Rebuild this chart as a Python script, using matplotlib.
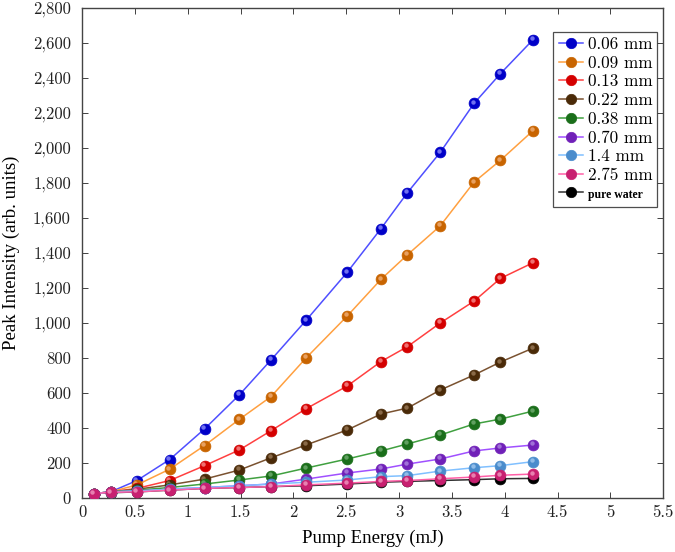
import matplotlib

matplotlib.use("Agg")
import matplotlib.pyplot as plt
import matplotlib.transforms as mtransforms
from matplotlib.ticker import FuncFormatter, MultipleLocator

energy = [0.11, 0.27, 0.52, 0.83, 1.16, 1.49, 1.79, 2.12, 2.51, 2.83, 3.08, 3.39, 3.71, 3.96, 4.27]

labels = ["0.06 mm", "0.09 mm", "0.13 mm", "0.22 mm", "0.38 mm", "0.70 mm", "1.4 mm", "2.75 mm", "pure water"]

i_006 = [25, 35, 100, 220, 395, 590, 790, 1015, 1290, 1540, 1745, 1975, 2255, 2425, 2620]
i_009 = [25, 35, 75, 165, 300, 450, 580, 800, 1040, 1250, 1390, 1555, 1805, 1930, 2100]
i_013 = [25, 35, 55, 100, 185, 275, 385, 510, 640, 780, 865, 1000, 1125, 1255, 1345]
i_022 = [25, 35, 50, 75, 108, 160, 230, 303, 389, 480, 514, 617, 703, 777, 857]
i_038 = [25, 35, 45, 60, 80, 103, 126, 171, 223, 269, 309, 360, 423, 451, 497]
i_070 = [25, 35, 40, 50, 60, 70, 80, 108, 143, 166, 194, 223, 269, 286, 303]
i_14 = [25, 35, 40, 50, 60, 70, 80, 90, 103, 122, 128, 154, 173, 185, 208]
i_275 = [25, 33, 35, 45, 55, 60, 65, 75, 85, 95, 100, 110, 120, 130, 137]
i_water = [25, 30, 35, 45, 55, 60, 65, 70, 80, 90, 95, 100, 105, 110, 112]

series = [i_006, i_009, i_013, i_022, i_038, i_070, i_14, i_275, i_water]
zorders = [3, 4, 5, 6, 7, 8, 9, 10, 2]

# (line colour, ball colour, highlight colour)
colors = [
    ("#4f4fff", "#0000c8", "#7070f0"),
    ("#ffa040", "#c86400", "#e8a060"),
    ("#ff4040", "#d40000", "#f07070"),
    ("#7a5230", "#4a2a08", "#8a6a48"),
    ("#40a040", "#1a6e1a", "#60a060"),
    ("#a050ff", "#7020b8", "#a070d8"),
    ("#80c0ff", "#4a8ccc", "#90bce8"),
    ("#ff60a8", "#c82070", "#e880b0"),
    ("#303030", "#000000", "#505050"),
]

plt.rcParams.update(
    {
        "font.family": "serif",
        "font.serif": ["cmr10", "DejaVu Serif"],
        "mathtext.fontset": "cm",
        "axes.formatter.use_mathtext": True,
        "axes.unicode_minus": False,
    }
)

fig = plt.figure(figsize=(6.75, 5.52), dpi=100)
ax = fig.add_axes([0.1215, 0.0978, 0.861, 0.8877])

hl = mtransforms.offset_copy(ax.transData, fig=fig, x=-1.1, y=1.1, units="points")

handles = []
for vals, lab, (lc, bc, hc), z in zip(series, labels, colors, zorders):
    (h,) = ax.plot(energy, vals, color=lc, lw=1.1, marker="o", markersize=7.8,
                   markerfacecolor=bc, markeredgecolor=bc, markeredgewidth=0.5, label=lab, zorder=z)
    ax.plot(energy, vals, ls="none", marker="o", markersize=3.2, markerfacecolor=hc,
            markeredgecolor="none", transform=hl, zorder=z + 0.5)
    handles.append(h)

ax.set_xlim(0, 5.5)
ax.set_ylim(0, 2800)
ax.xaxis.set_major_locator(MultipleLocator(0.5))
ax.yaxis.set_major_locator(MultipleLocator(200))
ax.xaxis.set_major_formatter(FuncFormatter(lambda v, p: f"{v:g}"))
ax.yaxis.set_major_formatter(FuncFormatter(lambda v, p: f"{int(v):,}"))
ax.tick_params(axis="both", direction="in", top=True, right=True, length=4, width=0.6,
               labelsize=12, colors="#222222")
ax.tick_params(axis="y", pad=8)
ax.tick_params(axis="x", pad=5)
for sp in ax.spines.values():
    sp.set_color("#444444")
    sp.set_linewidth(1.0)

ax.set_xlabel("Pump Energy (mJ)", fontsize=13.5, family="Liberation Serif", labelpad=7)
ax.set_ylabel("Peak Intensity (arb. units)", fontsize=13.5, family="Liberation Serif", labelpad=9)

leg = ax.legend(handles=handles, loc="upper right", bbox_to_anchor=(0.99, 0.952),
                fontsize=12.3, frameon=True, fancybox=False, edgecolor="#222222",
                handlelength=1.4, handletextpad=0.3, borderpad=0.3, labelspacing=0.2,
                borderaxespad=0)
leg.get_frame().set_linewidth(0.9)
leg.get_texts()[-1].set_fontsize(8.5)
leg.get_texts()[-1].set_fontweight("bold")
leg.get_texts()[-1].set_family("Liberation Serif")
for h in leg.legend_handles:
    h.set_markersize(7.5)

fig.savefig("out.png", dpi=100)
